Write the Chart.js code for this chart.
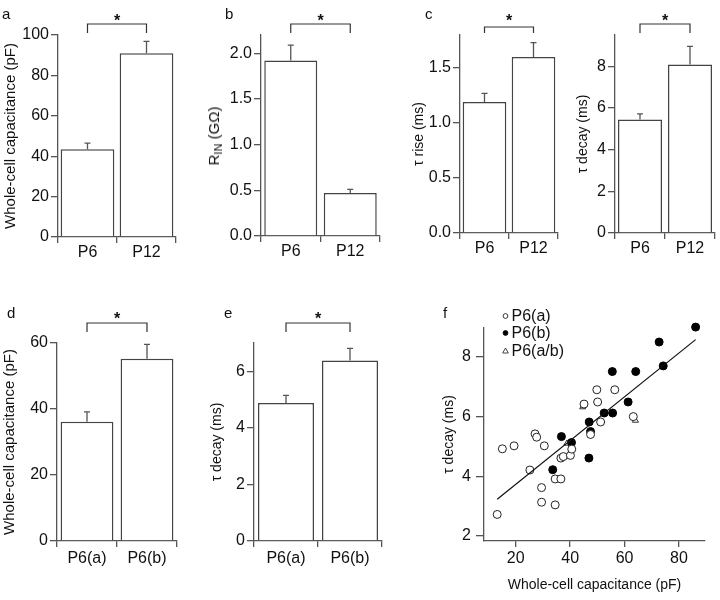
<!DOCTYPE html>
<html>
<head>
<meta charset="utf-8">
<script src="https://cdn.jsdelivr.net/npm/chart.js@4.4.0/dist/chart.umd.min.js"></script>
<style>
  html, body { margin: 0; padding: 0; background: #fff; }
  #fig { position: relative; width: 720px; height: 600px; overflow: hidden;
         font-family: "Liberation Sans", Arial, Helvetica, sans-serif; color: #111; }
  #fig canvas { position: absolute; left: 0; top: 0; }
  .lbl { position: absolute; font-size: 15px; line-height: 1; }
  .ytitle { position: absolute; font-size: 15px; white-space: nowrap; line-height: 1;
            transform: translate(-50%, -50%) rotate(-90deg); }
  .ytitle sub { font-size: 11px; vertical-align: -3px; }
</style>
</head>
<body>
<div id="fig">
  <canvas id="pa" width="720" height="600"></canvas>
  <canvas id="pb" width="720" height="600"></canvas>
  <canvas id="pc" width="720" height="600"></canvas>
  <canvas id="pc2" width="720" height="600"></canvas>
  <canvas id="pd" width="720" height="600"></canvas>
  <canvas id="pe" width="720" height="600"></canvas>
  <canvas id="pf" width="720" height="600"></canvas>
  <div class="lbl" style="left:2px;top:6px">a</div>
  <div class="lbl" style="left:225px;top:6px">b</div>
  <div class="lbl" style="left:425px;top:6px">c</div>
  <div class="lbl" style="left:7px;top:305px">d</div>
  <div class="lbl" style="left:224px;top:305px">e</div>
  <div class="lbl" style="left:443px;top:305px">f</div>
  <div class="ytitle" style="left:215px;top:136px">R<sub>IN</sub> (GΩ)</div>
</div>
<script>
(function () {
    // --- Data ---
    const ageCats = ['P6', 'P12'];
    const subCats = ['P6(a)', 'P6(b)'];

    const capMean = [43.5, 91.0];
    const capSem = [3.0, 5.8];
    const rinMean = [1.92, 0.47];
    const rinSem = [0.17, 0.04];
    const riseMean = [1.19, 1.60];
    const riseSem = [0.08, 0.13];
    const decayMean = [5.45, 8.08];
    const decaySem = [0.27, 0.87];
    const subCapMean = [36.1, 55.2];
    const subCapSem = [3.0, 4.4];
    const subDecayMean = [4.88, 6.38];
    const subDecaySem = [0.27, 0.43];

    const capTicks = [0, 20, 40, 60, 80, 100];
    const rinTicks = [0, 0.5, 1.0, 1.5, 2.0];
    const riseTicks = [0, 0.5, 1.0, 1.5];
    const decayTicks = [0, 2, 4, 6, 8];
    const subCapTicks = [0, 20, 40, 60];
    const subDecayTicks = [0, 2, 4, 6];

    // panel f scatter
    const seriesNames = ['P6(a)', 'P6(b)', 'P6(a/b)'];
    const aCap = [13.2, 15.1, 19.4, 25.2, 27.1, 27.7, 30.5, 29.5, 29.5, 34.5, 34.5, 36.6, 36.6, 37.5, 40.1, 40.6, 45.1, 49.8, 50.1, 51.2, 47.5, 56.4, 63.2];
    const aDecay = [2.72, 4.92, 5.02, 4.21, 5.42, 5.31, 5.02, 3.62, 3.13, 3.04, 3.91, 3.91, 4.61, 4.66, 4.70, 4.91, 6.42, 6.90, 6.49, 5.82, 5.40, 6.90, 6.00];
    const bCap = [86.1, 72.7, 74.2, 55.5, 64.1, 61.3, 52.5, 55.6, 47.0, 47.5, 36.8, 40.5, 33.6, 46.9];
    const bDecay = [9.00, 8.50, 7.70, 7.51, 7.51, 6.49, 6.12, 6.12, 5.82, 5.50, 5.33, 5.13, 4.22, 4.61];
    const abCap = [44.6, 64.0, 38.8];
    const abDecay = [6.32, 5.87, 5.10];
    const fitCap = [13.2, 86.1];
    const fitDecay = [3.23, 8.58];
    const fCapTicks = [20, 40, 60, 80];
    const fDecayTicks = [2, 4, 6, 8];

    // --- Setup ---
    const FONT = '"Liberation Sans", Arial, Helvetica, sans-serif';
    const AXIS = '#555';
    Chart.defaults.font.family = FONT;
    Chart.defaults.color = '#111';
    Chart.defaults.animation = false;
    Chart.defaults.plugins.legend.display = false;
    Chart.defaults.plugins.tooltip.enabled = false;

    const fixedWidth = w => scale => { scale.width = w; };
    const fixedHeight = h => scale => { scale.height = h; };
    const setTicks = vals => scale => { scale.ticks = vals.map(v => ({ value: v })); };
    const pts = (xs, ys) => xs.map((x, i) => ({ x, y: ys[i] }));

    const errorBars = {
        id: 'errorBars',
        afterDatasetsDraw(chart, args, opts) {
            if (!opts.errors) return;
            const ctx = chart.ctx;
            const y = chart.scales.y;
            const vals = chart.data.datasets[0].data;
            ctx.save();
            ctx.strokeStyle = AXIS;
            ctx.lineWidth = 1.3;
            chart.getDatasetMeta(0).data.forEach((bar, i) => {
                const top = y.getPixelForValue(vals[i] + opts.errors[i]);
                ctx.beginPath();
                ctx.moveTo(bar.x, bar.y);
                ctx.lineTo(bar.x, top);
                ctx.moveTo(bar.x - 3, top);
                ctx.lineTo(bar.x + 3, top);
                ctx.stroke();
            });
            ctx.restore();
        }
    };

    const bracket = {
        id: 'bracket',
        afterDraw(chart, args, opts) {
            if (!opts.rise) return;
            const ctx = chart.ctx;
            const bars = chart.getDatasetMeta(0).data;
            const x0 = bars[0].x, x1 = bars[1].x;
            const top = chart.chartArea.top - opts.rise;
            ctx.save();
            ctx.strokeStyle = '#333';
            ctx.lineWidth = 1.2;
            ctx.beginPath();
            ctx.moveTo(x0, top + opts.leg);
            ctx.lineTo(x0, top);
            ctx.lineTo(x1, top);
            ctx.lineTo(x1, top + opts.leg);
            ctx.stroke();
            ctx.fillStyle = '#111';
            ctx.font = 'bold 16px ' + FONT;
            ctx.textAlign = 'center';
            ctx.textBaseline = 'alphabetic';
            ctx.fillText('*', (x0 + x1) / 2, chart.chartArea.top - opts.star + 9);
            ctx.restore();
        }
    };

    const markerLegend = {
        id: 'markerLegend',
        afterDraw(chart, args, opts) {
            if (!opts.rows) return;
            const ctx = chart.ctx;
            ctx.save();
            ctx.font = '16px ' + FONT;
            ctx.textBaseline = 'middle';
            ctx.fillStyle = '#111';
            opts.rows.forEach((ry, i) => {
                const ds = chart.data.datasets[i + 1];
                ctx.beginPath();
                if (ds.pointStyle === 'triangle') {
                    ctx.moveTo(opts.x, ry - 3);
                    ctx.lineTo(opts.x + 2.8, ry + 2);
                    ctx.lineTo(opts.x - 2.8, ry + 2);
                    ctx.closePath();
                } else {
                    ctx.arc(opts.x, ry, 2.4, 0, Math.PI * 2);
                }
                ctx.fillStyle = ds.backgroundColor;
                ctx.fill();
                ctx.strokeStyle = ds.borderColor;
                ctx.lineWidth = 0.9;
                ctx.stroke();
                ctx.fillStyle = '#111';
                ctx.fillText(ds.label, opts.x + 6, ry + 1);
            });
            ctx.restore();
        }
    };

    // box = [left, right, top, bottom] of the plot area
    function barPanel(id, p) {
        const [left, right, top, bottom] = p.box;
        return new Chart(document.getElementById(id), {
            type: 'bar',
            data: {
                labels: p.labels,
                datasets: [{
                    data: p.values,
                    backgroundColor: '#fff',
                    borderColor: '#444',
                    borderWidth: 1.5,
                    barPercentage: p.barPct,
                    categoryPercentage: 1
                }]
            },
            options: {
                responsive: false,
                maintainAspectRatio: false,
                layout: { padding: { left: left - p.yw, right: 720 - right, top: top, bottom: 600 - bottom - p.xh } },
                scales: {
                    x: {
                        offset: true,
                        grid: { offset: true, drawOnChartArea: false, tickLength: 6, color: AXIS, lineWidth: 1.3 },
                        border: { color: AXIS, width: 1.3 },
                        ticks: { font: { size: 16, lineHeight: 1 }, padding: p.xpad },
                        afterFit: fixedHeight(p.xh)
                    },
                    y: {
                        min: 0,
                        max: p.max,
                        grid: { drawOnChartArea: false, tickLength: 7, color: AXIS, lineWidth: 1.3 },
                        border: { color: AXIS, width: 1.3 },
                        ticks: { font: { size: 16 }, padding: 2, callback: p.fmt || (v => String(v)) },
                        title: { display: !!p.title, text: p.title, font: { size: p.titleSize }, padding: 0 },
                        afterBuildTicks: setTicks(p.ticks),
                        afterFit: fixedWidth(p.yw)
                    }
                },
                plugins: {
                    errorBars: { errors: p.errors },
                    bracket: p.bracket
                }
            },
            plugins: [errorBars, bracket]
        });
    }

    const oneDec = v => v.toFixed(1);

    barPanel('pa', { labels: ageCats, values: capMean, errors: capSem, ticks: capTicks, max: 100,
        box: [58, 176, 35, 237], yw: 56, xh: 30, xpad: 2, barPct: 0.91,
        title: 'Whole-cell capacitance (pF)', titleSize: 15, bracket: { rise: 11, leg: 9, star: 18 } });
    barPanel('pb', { labels: ageCats, values: rinMean, errors: rinSem, ticks: rinTicks, max: 2.2, fmt: oneDec,
        box: [261, 380, 35, 236], yw: 40, xh: 30, xpad: 2, barPct: 0.89,
        bracket: { rise: 11, leg: 9, star: 18 } });
    barPanel('pc', { labels: ageCats, values: riseMean, errors: riseSem, ticks: riseTicks, max: 1.8, fmt: oneDec,
        box: [460, 558, 35, 233], yw: 49.4, xh: 30, xpad: 2, barPct: 0.89,
        title: 'τ rise (ms)', titleSize: 14, bracket: { rise: 8, leg: 6, star: 18 } });
    barPanel('pc2', { labels: ageCats, values: decayMean, errors: decaySem, ticks: decayTicks, max: 9.5,
        box: [615, 715, 35, 233], yw: 40.4, xh: 30, xpad: 2, barPct: 0.88,
        title: 'τ decay (ms)', titleSize: 14, bracket: { rise: 11, leg: 9, star: 18 } });
    barPanel('pd', { labels: subCats, values: subCapMean, errors: subCapSem, ticks: subCapTicks, max: 60,
        box: [57, 177, 343, 541], yw: 56, xh: 40, xpad: 4, barPct: 0.88,
        title: 'Whole-cell capacitance (pF)', titleSize: 15, bracket: { rise: 20, leg: 9, star: 28 } });
    barPanel('pe', { labels: subCats, values: subDecayMean, errors: subDecaySem, ticks: subDecayTicks, max: 7,
        box: [254, 382, 343, 541], yw: 45.4, xh: 40, xpad: 4, barPct: 0.875,
        title: 'τ decay (ms)', titleSize: 14, bracket: { rise: 20, leg: 9, star: 28 } });

    // --- Scatter f ---
    new Chart(document.getElementById('pf'), {
        type: 'scatter',
        data: {
            datasets: [
                { type: 'line', label: 'fit', data: pts(fitCap, fitDecay), borderColor: '#111', borderWidth: 1.2,
                  pointRadius: 0, fill: false, clip: false },
                { label: seriesNames[0], data: pts(aCap, aDecay), pointStyle: 'circle', pointRadius: 4,
                  backgroundColor: '#fff', borderColor: '#222', borderWidth: 1, clip: false },
                { label: seriesNames[1], data: pts(bCap, bDecay), pointStyle: 'circle', pointRadius: 4,
                  backgroundColor: '#000', borderColor: '#000', borderWidth: 1, clip: false },
                { label: seriesNames[2], data: pts(abCap, abDecay), pointStyle: 'triangle', pointRadius: 3.5,
                  backgroundColor: '#fff', borderColor: '#333', borderWidth: 1, clip: false }
            ]
        },
        options: {
            responsive: false,
            maintainAspectRatio: false,
            layout: { padding: { left: 484 - 43.4, right: 720 - 705, top: 328, bottom: 600 - 541 - 52.4 } },
            scales: {
                x: {
                    type: 'linear',
                    min: 8.35,
                    max: 89.55,
                    grid: { drawOnChartArea: false, tickLength: 6, color: AXIS, lineWidth: 1.3 },
                    border: { color: AXIS, width: 1.3 },
                    ticks: { font: { size: 16, lineHeight: 1 }, padding: 4 },
                    title: { display: true, text: 'Whole-cell capacitance (pF)', font: { size: 14 }, padding: 0 },
                    afterBuildTicks: setTicks(fCapTicks),
                    afterFit: fixedHeight(52.4)
                },
                y: {
                    min: 1.83,
                    max: 8.97,
                    grid: { drawOnChartArea: false, tickLength: 8, color: AXIS, lineWidth: 1.3 },
                    border: { color: AXIS, width: 1.3 },
                    ticks: { font: { size: 16 }, padding: 5 },
                    title: { display: true, text: 'τ decay (ms)', font: { size: 14 }, padding: 0 },
                    afterBuildTicks: setTicks(fDecayTicks),
                    afterFit: fixedWidth(43.4)
                }
            },
            plugins: {
                markerLegend: { x: 505.5, rows: [316, 333, 351] }
            }
        },
        plugins: [markerLegend]
    });
})();
</script>
</body>
</html>
